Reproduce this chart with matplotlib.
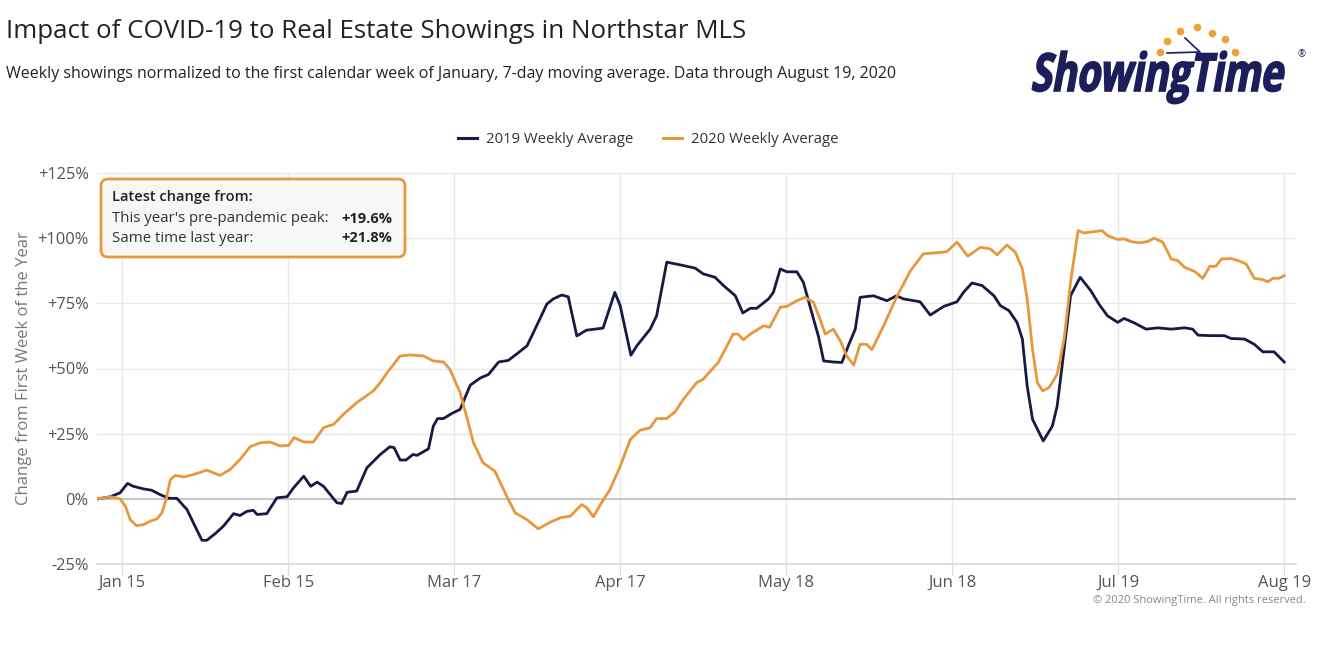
import pandas as pd
import numpy as np
import matplotlib
matplotlib.use("Agg")
import matplotlib.pyplot as plt
from matplotlib.patches import FancyBboxPatch, PathPatch
from matplotlib.transforms import IdentityTransform, Affine2D
from matplotlib.lines import Line2D
from matplotlib.textpath import TextPath
from matplotlib.font_manager import FontProperties

# =========================
# Data (days after Jan 15, % change vs first week of January)
# =========================
days_2019 = [-4.5, -2.2, -0.4, 1.0, 2.1, 4.0, 5.5, 7.1, 8.7, 10.2, 12.1, 13.6, 14.9, 15.8, 17.4,
             18.9, 20.8, 22.0, 23.3, 24.5, 25.2, 27.0, 28.9, 30.8, 32.0, 33.9, 35.2, 36.4, 37.6,
             40.1, 41.0, 42.0, 43.8, 45.7, 48.2, 50.0, 50.8, 51.9, 53.0, 54.3, 55.1, 57.2, 58.1,
             58.9, 60.0, 61.6, 63.1, 65.0, 66.9, 68.4, 70.3, 72.1, 73.7, 75.6, 77.4, 79.3, 80.5,
             82.1, 83.3, 84.9, 86.7, 89.8, 92.0, 93.0, 95.0, 96.1, 98.6, 99.8, 101.7, 104.8,
             107.0, 108.5, 110.7, 112.3, 114.5, 115.9, 117.3, 118.5, 120.7, 121.6, 122.9, 124.1,
             126.0, 127.2, 129.1, 130.0, 131.0, 132.8, 134.4, 135.6, 136.9, 137.8, 140.3, 142.8,
             144.6, 145.9, 149.0, 150.9, 153.4, 155.9, 157.1, 158.7, 160.6, 162.8, 164.0, 165.6,
             167.1, 168.1, 169.0, 170.0, 172.0, 173.7, 174.6, 175.6, 177.1, 178.9, 180.9, 182.4,
             184.0, 185.9, 187.1, 189.0, 191.2, 193.4, 195.9, 198.4, 199.9, 200.9, 203.3, 205.8,
             207.1, 209.6, 211.4, 213.0, 215.1, 217.0]
pct_2019 = [0, 0.8, 2.3, 5.9, 4.8, 3.8, 3.3, 1.6, 0.2, 0.2, -4.1, -10.5, -15.9, -15.9, -13.3,
            -10.5, -5.7, -6.4, -4.8, -4.4, -6.0, -5.7, 0.4, 0.8, 4.2, 8.7, 4.8, 6.4, 4.8,
            -1.5, -1.8, 2.5, 3.0, 11.9, 17.0, 20.0, 19.6, 14.9, 14.9, 17.0, 16.7, 19.2, 27.9,
            30.8, 30.8, 32.8, 34.3, 43.6, 46.4, 47.7, 52.5, 53.1, 55.6, 58.7, 66.4, 74.7, 76.7,
            78.2, 77.5, 62.5, 64.7, 65.5, 79.2, 74.1, 55.1, 58.7, 65.1, 70.2, 90.8, 89.5,
            88.5, 86.3, 85.0, 81.8, 77.9, 71.3, 73.1, 73.1, 76.7, 79.2, 88.2, 87.1,
            87.1, 83.1, 69.0, 62.5, 52.9, 52.5, 52.3, 58.7, 65.1, 77.3, 77.9, 76.0,
            77.9, 76.7, 75.6, 70.5, 73.8, 75.6, 79.2, 82.8, 81.8, 77.9, 74.1, 72.2,
            67.7, 61.3, 43.3, 30.5, 22.2, 27.9, 35.6, 52.3, 77.9, 85.0, 79.8, 74.7,
            70.2, 67.7, 69.2, 67.5, 65.1, 65.6, 65.1, 65.6, 65.1, 62.8, 62.6, 62.6,
            61.5, 61.3, 59.3, 56.4, 56.4, 52.5]

days_2020 = [-4.5, -2.2, -0.4, 0.6, 1.5, 2.7, 4.0, 5.2, 6.5, 7.4, 8.2, 9.0, 9.9, 11.5, 13.3,
             15.8, 18.3, 20.2, 22.0, 23.9, 25.8, 27.6, 29.5, 31.1, 32.1, 33.9, 35.7, 37.6, 39.5,
             41.3, 43.8, 46.9, 48.2, 49.4, 51.9, 53.8, 56.3, 58.1, 60.0, 61.2, 63.1, 64.3, 65.6,
             67.4, 69.6, 71.8, 73.4, 75.6, 77.7, 79.9, 81.8, 83.7, 85.8, 86.7, 88.0, 89.3, 91.1,
             93.0, 94.9, 96.7, 98.6, 99.8, 101.7, 103.3, 104.8, 107.3, 108.5, 111.3, 114.1,
             115.0, 116.0, 117.3, 119.8, 120.9, 122.9, 124.1, 126.0, 127.5, 129.1, 130.3, 131.3,
             132.8, 134.1, 135.3, 136.6, 137.8, 139.0, 140.0, 142.2, 144.6, 147.2, 149.6, 152.1,
             154.0, 155.9, 157.9, 160.3, 162.1, 163.4, 165.2, 166.8, 168.1, 169.0, 170.0, 170.9,
             171.9, 173.1, 174.6, 175.9, 177.1, 178.5, 179.6, 181.5, 183.0, 184.0, 185.9, 187.1,
             188.4, 189.9, 191.5, 192.7, 194.3, 195.9, 197.1, 198.4, 200.3, 201.8, 203.1, 204.2,
             205.3, 207.1, 208.4, 209.9, 211.4, 213.0, 213.9, 214.9, 216.0, 217.0]
pct_2020 = [0, 0.8, 0, -2.8, -8.0, -10.3, -9.9, -8.6, -7.7, -5.4, -0.3, 7.4, 9.0, 8.4, 9.3,
            11.0, 9.0, 11.3, 15.1, 20.0, 21.5, 21.8, 20.3, 20.5, 23.5, 21.8, 21.8, 27.3, 28.6,
            32.4, 36.9, 41.4, 44.6, 48.2, 54.8, 55.2, 54.8, 52.9, 52.5, 49.7, 40.8, 31.8, 21.5,
            13.8, 10.6, 1.0, -5.4, -8.0, -11.5, -9.0, -7.3, -6.6, -2.2, -3.3, -6.9, -2.2, 3.6,
            12.5, 22.8, 26.3, 27.3, 30.8, 30.8, 33.5, 38.2, 44.6, 45.9, 52.3, 63.2,
            63.2, 61.0, 63.2, 66.4, 65.8, 73.5, 73.8, 76.0, 77.3, 75.4, 69.0, 63.2,
            65.1, 60.6, 54.8, 51.3, 59.3, 59.3, 57.2, 66.4, 77.3, 87.5, 94.0, 94.4,
            94.8, 98.5, 93.1, 96.5, 95.9, 93.6, 97.4, 94.6, 88.2, 76.7, 57.4, 44.6,
            41.4, 42.7, 47.8, 61.3, 83.1, 102.9, 102.0, 102.5, 102.9, 101.0, 99.5, 99.7,
            98.7, 98.2, 98.7, 100.0, 98.5, 92.0, 91.4, 88.8, 87.2, 84.6, 89.2, 89.2,
            92.0, 92.2, 91.4, 90.1, 84.6, 84.1, 83.3, 84.6, 84.6, 85.6]

tick_dates = ["2020-01-15", "2020-02-15", "2020-03-17", "2020-04-17",
              "2020-05-18", "2020-06-18", "2020-07-19", "2020-08-19"]
tick_labels = ["Jan 15", "Feb 15", "Mar 17", "Apr 17", "May 18", "Jun 18", "Jul 19", "Aug 19"]
y_ticks = [-25, 0, 25, 50, 75, 100, 125]
y_labels = ["-25%", "0%", "+25%", "+50%", "+75%", "+100%", "+125%"]

peak_change = "+19.6%"
last_year_change = "+21.8%"

# =========================
# Style
# =========================
plt.rcParams['font.family'] = ['Open Sans', 'DejaVu Sans']
NAVY = "#161a45"
ORANGE = "#e9973d"
LOGO = "#1b1e5a"
W, H = 1343, 645

def px(x, y):
    return x / W, 1 - y / H

base = pd.Timestamp("2020-01-15")
tick_pos = [(pd.Timestamp(d) - base).days for d in tick_dates]

fig = plt.figure(figsize=(W / 100, H / 100), dpi=100)
ax = fig.add_axes([97 / W, 1 - 564 / H, (1296 - 97) / W, (564 - 173) / H])

ax.plot(days_2019, pct_2019, color=NAVY, lw=2.0, solid_joinstyle='round', zorder=3)
ax.plot(days_2020, pct_2020, color=ORANGE, lw=2.0, solid_joinstyle='round', zorder=3)

ax.set_xlim(-4.7, 219.2)
ax.set_ylim(-25, 125)
ax.set_xticks(tick_pos)
ax.set_xticklabels(tick_labels)
ax.set_yticks(y_ticks)
ax.set_yticklabels(y_labels)

ax.grid(True, color="#e9e9e9", lw=1.0)
ax.axhline(0, color="#c4c4c4", lw=1.3, zorder=2)
for s in ["top", "right", "left"]:
    ax.spines[s].set_visible(False)
ax.spines["bottom"].set_color("#d4d9e6")
ax.spines["bottom"].set_linewidth(1.2)
ax.tick_params(axis="x", length=8, color="#d4d9e6", labelsize=12, labelcolor="#555555", pad=0)
ax.tick_params(axis="y", length=0, labelsize=11.8, labelcolor="#555555", pad=6)

ax.set_ylabel("Change from First Week of the Year", fontsize=12, color="#777777", labelpad=4)

# =========================
# Titles
# =========================
fig.text(*px(6, 31), "Impact of COVID-19 to Real Estate Showings in Northstar MLS",
         fontsize=18.6, color="#222222", va="center", ha="left")
fig.text(*px(6, 74), "Weekly showings normalized to the first calendar week of January, "
         "7-day moving average. Data through August 19, 2020",
         fontsize=11.5, color="#222222", va="center", ha="left")
fig.text(*px(1306, 601), "\u00a9 2020 ShowingTime. All rights reserved.",
         fontsize=8, color="#888888", va="center", ha="right")

# legend
handles = [Line2D([], [], color=NAVY, lw=2.2), Line2D([], [], color=ORANGE, lw=2.2)]
fig.legend(handles, ["2019 Weekly Average", "2020 Weekly Average"], loc="center",
           bbox_to_anchor=px(648, 140), ncol=2, frameon=False, fontsize=10.7,
           handlelength=1.3, columnspacing=2.0, handletextpad=0.6, labelcolor="#333333")

# =========================
# Annotation box
# =========================
box = FancyBboxPatch((101, H - 257), 304, 78, boxstyle="round,pad=0,rounding_size=7",
                     transform=IdentityTransform(), facecolor="#f7f7f7",
                     edgecolor=ORANGE, lw=2, zorder=5)
fig.patches.append(box)
fig.text(*px(112, 197), "Latest change from:", fontsize=10.5, weight="semibold",
         color="#222222", va="center", ha="left", zorder=6)
fig.text(*px(112, 219), "This year's pre-pandemic peak:", fontsize=10.8,
         color="#333333", va="center", ha="left", zorder=6)
fig.text(*px(392, 219), peak_change, fontsize=10.5, weight="bold",
         color="#222222", va="center", ha="right", zorder=6)
fig.text(*px(112, 238), "Same time last year:", fontsize=10.8,
         color="#333333", va="center", ha="left", zorder=6)
fig.text(*px(392, 238), last_year_change, fontsize=10.5, weight="bold",
         color="#222222", va="center", ha="right", zorder=6)

# =========================
# Logo (upright bold text, slanted and squeezed into the logo box)
# =========================
fp = FontProperties(family="Open Sans", weight="bold", style="normal")
word = TextPath((0, 0), "ShowingTime", size=50, prop=fp)
cap_h = TextPath((0, 0), "S", size=50, prop=fp).get_extents().y1
ext = word.get_extents()
slant = np.tan(np.radians(14))
logo_w = ext.width + slant * ext.y1
logo_tr = (Affine2D().translate(-ext.x0, 0).skew_deg(14, 0)
           .scale(256 / logo_w, 38 / cap_h).translate(1032, H - 91))
fig.add_artist(PathPatch(word, transform=logo_tr, facecolor=LOGO, edgecolor=LOGO, lw=1.2))
fig.text(*px(1302, 55), "\u00ae", fontsize=7, color=LOGO, va="center", ha="center")
dots_x = [1160, 1167, 1180, 1197, 1212, 1225, 1235]
dots_y = [52, 41, 31, 27, 33, 39, 52]
fig.add_artist(Line2D([x / W for x in dots_x], [1 - y / H for y in dots_y], ls="none",
                      marker="o", ms=4.5, color="#eba23a"))
fig.add_artist(Line2D([1185 / W, 1200 / W, 1167 / W],
                      [1 - 38 / H, 1 - 52 / H, 1 - 53 / H], color=LOGO, lw=1.2))

fig.savefig("out.png", dpi=100)
